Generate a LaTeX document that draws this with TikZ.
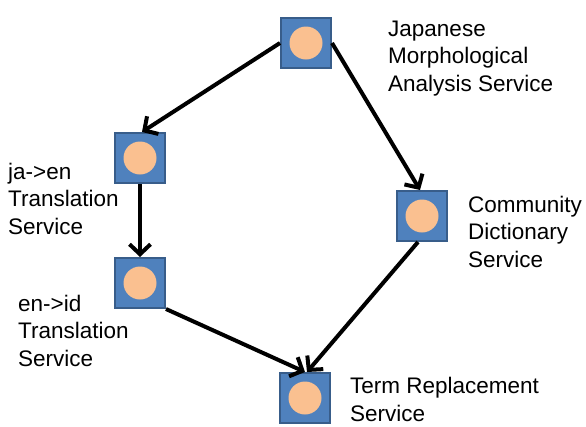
\documentclass[tikz,border=0pt]{standalone}
\usepackage{fontspec}
\setmainfont{Liberation Sans}
\usetikzlibrary{arrows.meta}
\definecolor{boxblue}{HTML}{4F81BD}
\definecolor{boxedge}{HTML}{385D8A}
\definecolor{circfill}{HTML}{FAC090}
\tikzset{
  svc/.style={rectangle, minimum size=50pt, inner sep=0pt, fill=boxblue, draw=boxedge, line width=2pt,
    path picture={\fill[circfill] (path picture bounding box.center) circle (16.5pt);}},
  lbl/.style={anchor=base west, align=left, inner sep=0pt, font=\fontsize{22.5pt}{27.5pt}\selectfont},
  conn/.style={line width=4pt, -{Straight Barb[length=10pt,width=21pt,line width=4pt]}}
}
\begin{document}
\begin{tikzpicture}[x=1pt,y=-1pt]
\useasboundingbox (0,0) rectangle (586,426);
\node[svc] (jma) at (306,43) {};
\node[svc] (jaen) at (140,158) {};
\node[svc] (enid) at (140,283) {};
\node[svc] (comm) at (422,216) {};
\node[svc] (term) at (305,398) {};
\node[lbl] (ljma) at (388,91) {Japanese\\Morphological\\Analysis Service};
\node[lbl] (ljaen) at (8,234) {ja->en\\Translation\\Service};
\node[lbl] (lenid) at (18,366) {en->id\\Translation\\Service};
\node[lbl] (lcomm) at (468,267) {Community\\Dictionary\\Service};
\node[lbl] (lterm) at (350,421) {Term Replacement\\Service};
\draw[conn] (jma.west) -- ([xshift=2pt]jaen.north);
\draw[conn] (jma.east) -- ([xshift=-2pt]comm.north);
\draw[conn] (jaen.south) -- (enid.north);
\draw[conn] (enid.south east) -- (term.north);
\draw[conn] ([xshift=-4pt]comm.south) -- ([xshift=2pt]term.north);
\end{tikzpicture}
\end{document}
